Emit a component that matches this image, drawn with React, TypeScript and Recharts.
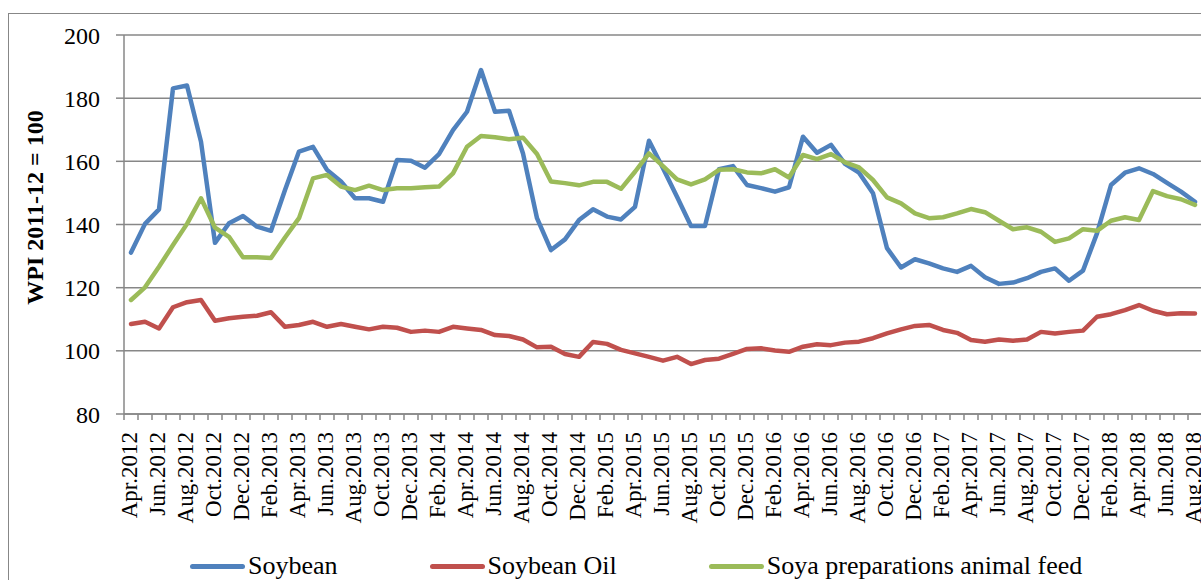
import React from "react";
import { CartesianGrid, Line, LineChart, XAxis, YAxis } from "recharts";

const months = [
  "Apr.2012", "May.2012", "Jun.2012", "Jul.2012", "Aug.2012", "Sep.2012", "Oct.2012", "Nov.2012", "Dec.2012",
  "Jan.2013", "Feb.2013", "Mar.2013", "Apr.2013", "May.2013", "Jun.2013", "Jul.2013", "Aug.2013", "Sep.2013", "Oct.2013", "Nov.2013", "Dec.2013",
  "Jan.2014", "Feb.2014", "Mar.2014", "Apr.2014", "May.2014", "Jun.2014", "Jul.2014", "Aug.2014", "Sep.2014", "Oct.2014", "Nov.2014", "Dec.2014",
  "Jan.2015", "Feb.2015", "Mar.2015", "Apr.2015", "May.2015", "Jun.2015", "Jul.2015", "Aug.2015", "Sep.2015", "Oct.2015", "Nov.2015", "Dec.2015",
  "Jan.2016", "Feb.2016", "Mar.2016", "Apr.2016", "May.2016", "Jun.2016", "Jul.2016", "Aug.2016", "Sep.2016", "Oct.2016", "Nov.2016", "Dec.2016",
  "Jan.2017", "Feb.2017", "Mar.2017", "Apr.2017", "May.2017", "Jun.2017", "Jul.2017", "Aug.2017", "Sep.2017", "Oct.2017", "Nov.2017", "Dec.2017",
  "Jan.2018", "Feb.2018", "Mar.2018", "Apr.2018", "May.2018", "Jun.2018", "Jul.2018", "Aug.2018"
];

const soybean = [
  131.1, 140.2, 144.8, 183.1, 184, 166.2, 134.2, 140.4, 142.7, 139.3,
  138, 150.9, 163.1, 164.6, 157.3, 153.6, 148.3, 148.3, 147.2, 160.4,
  160.2, 158, 162.3, 169.9, 175.7, 188.9, 175.7, 176, 162.5, 142,
  131.9, 135.3, 141.4, 144.8, 142.5, 141.6, 145.6, 166.5, 157.8, 148.8,
  139.5, 139.5, 157.5, 158.5, 152.5, 151.5, 150.4, 151.8, 167.8, 162.7,
  165.2, 159.2, 156.4, 149.9, 132.5, 126.4, 129, 127.7, 126.1, 125,
  126.9, 123.3, 121.2, 121.6, 123, 125, 126.1, 122.2, 125.4, 137.2,
  152.5, 156.4, 157.8, 156, 153.2, 150.4, 147.2
];

const soybeanOil = [
  108.5, 109.2, 107.1, 113.8, 115.4, 116.1, 109.5, 110.3, 110.8, 111.1,
  112.2, 107.6, 108.2, 109.2, 107.6, 108.5, 107.6, 106.8, 107.6, 107.3,
  106, 106.4, 106, 107.6, 107.1, 106.6, 105, 104.7, 103.6, 101.1,
  101.3, 99, 98.1, 102.8, 102.2, 100.3, 99.2, 98.1, 96.9, 98.1,
  95.8, 97.1, 97.5, 99, 100.6, 100.8, 100.1, 99.7, 101.3, 102.1,
  101.8, 102.6, 102.9, 104, 105.5, 106.8, 107.9, 108.2, 106.6, 105.7,
  103.4, 102.9, 103.6, 103.2, 103.6, 106, 105.5, 106, 106.4, 110.8,
  111.6, 112.9, 114.5, 112.7, 111.6, 111.9, 111.8
];

const soyaFeed = [
  116.1, 120.1, 126.6, 133.5, 140.2, 148.3, 139, 136.1, 129.6, 129.6,
  129.4, 135.9, 142, 154.6, 155.7, 152, 150.9, 152.3, 150.9, 151.5,
  151.5, 151.8, 152, 156.2, 164.6, 168, 167.6, 167, 167.5, 162.3,
  153.6, 153.1, 152.4, 153.5, 153.5, 151.3, 156.7, 162.5, 158.5, 154.3,
  152.7, 154.3, 157.3, 157.5, 156.5, 156.2, 157.5, 154.9, 162, 160.7,
  162.3, 159.7, 158.1, 154.1, 148.6, 146.7, 143.5, 142, 142.3, 143.5,
  144.9, 143.9, 141.2, 138.5, 139.1, 137.7, 134.5, 135.6, 138.5, 138,
  141.2, 142.3, 141.4, 150.6, 149, 148, 146.2
];

const yTicks = [80, 100, 120, 140, 160, 180, 200];

const series = [
  { key: "soybean", name: "Soybean", color: "#4F81BD" },
  { key: "soybeanOil", name: "Soybean Oil", color: "#C0504D" },
  { key: "soyaFeed", name: "Soya preparations animal feed", color: "#9BBB59" }
];

const data = months.map((m, i) => ({
  idx: i,
  month: m,
  soybean: soybean[i],
  soybeanOil: soybeanOil[i],
  soyaFeed: soyaFeed[i]
}));

// boundary ticks between months (-0.5, 0.5, ...) plus label ticks on every 2nd month
const xTicks: number[] = [];
months.forEach((_, i) => {
  xTicks.push(i - 0.5);
  if (i % 2 === 0) xTicks.push(i);
});
xTicks.push(months.length - 0.5);

const FONT = '"Liberation Serif", "Times New Roman", serif';
const GRAY = "#878787";

const XTick = (props: any) => {
  const { x, y, payload } = props;
  const v = payload.value as number;
  if (!Number.isInteger(v)) {
    return <line x1={x} x2={x} y1={y} y2={y + 6} stroke={GRAY} strokeWidth={1.5} />;
  }
  return (
    <text
      transform={`translate(${x + 6},${y + 18}) rotate(-90)`}
      textAnchor="end"
      fontSize={23}
      fontFamily={FONT}
      fill="#000"
    >
      {months[v]}
    </text>
  );
};

const YTitle = (props: any) => {
  const { viewBox } = props;
  const cx = viewBox.x + 35;
  const cy = viewBox.y + viewBox.height / 2 - 17;
  return (
    <text
      transform={`translate(${cx},${cy}) rotate(-90)`}
      textAnchor="middle"
      fontSize={24}
      fontWeight="bold"
      fontFamily={FONT}
      fill="#000"
    >
      WPI 2011-12 = 100
    </text>
  );
};

const App = () => {
  return (
    <div
      style={{
        position: "absolute",
        left: 8,
        top: 13,
        width: 1193,
        height: 567,
        overflow: "hidden",
        background: "#fff"
      }}
    >
      <div
        style={{
          position: "absolute",
          left: 0,
          top: 0,
          width: 1300,
          height: 700,
          border: `1.5px solid ${GRAY}`,
          boxSizing: "border-box"
        }}
      />
      <div style={{ position: "absolute", left: 0, top: 0 }}>
        <LineChart
          width={1210}
          height={521}
          data={data}
          margin={{ top: 22, right: 16, bottom: 0, left: 0 }}
        >
          <CartesianGrid vertical={false} stroke={GRAY} strokeWidth={1.5} />
          <XAxis
            dataKey="idx"
            type="number"
            domain={[-0.5, months.length - 0.5]}
            ticks={xTicks}
            interval={0}
            height={120}
            tickLine={false}
            tickSize={0}
            tickMargin={0}
            axisLine={{ stroke: GRAY, strokeWidth: 1.5 }}
            tick={<XTick />}
          />
          <YAxis
            domain={[80, 200]}
            ticks={yTicks}
            interval={0}
            width={116}
            tickSize={8}
            tickMargin={16}
            tickLine={{ stroke: GRAY, strokeWidth: 1.5 }}
            axisLine={{ stroke: GRAY, strokeWidth: 1.5 }}
            tick={{ fill: "#000", fontSize: 24, fontFamily: FONT }}
            label={<YTitle />}
          />
          {series.map((s) => (
            <Line
              key={s.key}
              type="linear"
              dataKey={s.key}
              name={s.name}
              stroke={s.color}
              strokeWidth={4.5}
              strokeLinejoin="round"
              strokeLinecap="round"
              dot={false}
              activeDot={false}
              isAnimationActive={false}
            />
          ))}
        </LineChart>
      </div>
      <div
        style={{
          position: "absolute",
          left: 182,
          top: 538,
          height: 30,
          display: "flex",
          alignItems: "center",
          gap: 92,
          fontFamily: FONT,
          fontSize: 26,
          lineHeight: "30px",
          whiteSpace: "nowrap",
          color: "#000"
        }}
      >
        {series.map((s) => (
          <div key={s.key} style={{ display: "flex", alignItems: "center" }}>
            <span
              style={{
                display: "inline-block",
                width: 55,
                height: 5,
                borderRadius: 3,
                background: s.color,
                marginRight: 3
              }}
            />
            <span>{s.name}</span>
          </div>
        ))}
      </div>
    </div>
  );
};

export default App;
